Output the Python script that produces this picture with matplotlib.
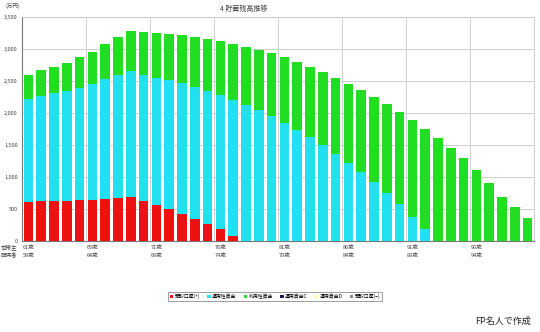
import matplotlib
matplotlib.use("Agg")
import matplotlib.pyplot as plt
import numpy as np
from matplotlib.patches import Patch
from matplotlib.ticker import FuncFormatter

plt.rcParams['font.family'] = ['Noto Sans CJK JP', 'DejaVu Sans']

# 世帯主 / 配偶者 ages (one bar per year)
head_ages = list(range(61, 101))
spouse_ages = list(range(59, 99))

# stacked segments, 万円
deposit_plus = [610, 620, 625, 625, 640, 645, 660, 675, 685, 620,
                560, 495, 425, 350, 270, 180, 85, 0, 0, 0,
                0, 0, 0, 0, 0, 0, 0, 0, 0, 0,
                0, 0, 0, 0, 0, 0, 0, 0, 0, 0]
invest_funds = [1615, 1645, 1685, 1720, 1755, 1805, 1865, 1915, 1965, 1980,
                1990, 2015, 2040, 2055, 2075, 2100, 2125, 2130, 2040, 1950,
                1850, 1740, 1620, 1500, 1365, 1225, 1075, 920, 755, 575,
                380, 180, 0, 0, 0, 0, 0, 0, 0, 0]
use_funds = [375, 400, 415, 440, 480, 505, 550, 600, 630, 660,
             700, 725, 750, 780, 805, 840, 870, 905, 950, 980,
             1020, 1060, 1105, 1140, 1185, 1230, 1280, 1335, 1390, 1445,
             1510, 1575, 1615, 1455, 1290, 1105, 910, 690, 530, 365]

legend_labels = ["預貯口座(+)", "運用性資金", "利用性資金", "運用資金C", "運用資金D", "預貯口座(−)"]
legend_colors = ["#ee1111", "#22e0f0", "#22dd22", "#1a1a60", "#ffff99", "#888888"]

fig = plt.figure(figsize=(5.4, 3.32), dpi=100)
ax = fig.add_axes([22 / 540, 91 / 332, 512 / 540, 224 / 332])

x = np.arange(len(head_ages))
red = np.array(deposit_plus)
cyan = np.array(invest_funds)
green = np.array(use_funds)
w = 0.74
ax.bar(x, red, w, color=legend_colors[0], zorder=3)
ax.bar(x, cyan, w, bottom=red, color=legend_colors[1], zorder=3)
ax.bar(x, green, w, bottom=red + cyan, color=legend_colors[2], zorder=3)

ax.set_xlim(-0.5, len(x) - 0.5)
ax.set_ylim(0, 3500)
ax.set_yticks(np.arange(0, 3501, 500))
ax.yaxis.set_major_formatter(FuncFormatter(lambda v, p: f"{int(v):,}"))
ax.tick_params(axis='y', labelsize=4, length=0, pad=3, colors='#444444')
ax.set_xticks([])
ax.grid(axis='y', color='#c8c8c8', lw=0.6, zorder=0)
for b in np.arange(4.5, len(x) - 1, 5):
    ax.axvline(b, color='#c8c8c8', lw=0.6, zorder=0)
for side in ['top', 'right']:
    ax.spines[side].set_color('#c8c8c8')
    ax.spines[side].set_linewidth(0.6)
for side in ['left', 'bottom']:
    ax.spines[side].set_color('#777777')
    ax.spines[side].set_linewidth(0.8)

# age labels under the axis
tr = ax.get_xaxis_transform()
for i in range(0, len(x), 5):
    ax.text(i - 0.45, -0.03, f"{head_ages[i]}歳", transform=tr, fontsize=4,
            ha='left', va='center', color='#444444')
    ax.text(i - 0.45, -0.065, f"{spouse_ages[i]}歳", transform=tr, fontsize=4,
            ha='left', va='center', color='#444444')
fig.text(1 / 540, 1 - 247 / 332, "世帯主", fontsize=4, va='center', color='#444444')
fig.text(1 / 540, 1 - 254 / 332, "配偶者", fontsize=4, va='center', color='#444444')

fig.text(5 / 540, 1 - 6 / 332, "(万円)", fontsize=4, va='center', color='#444444')
fig.text(244 / 540, 1 - 9 / 332, "4 貯蓄残高推移", fontsize=5, ha='center',
         va='center', color='#444444')

handles = [Patch(facecolor=c, edgecolor='none') for c in legend_colors]
leg = fig.legend(handles, legend_labels, loc='center', ncol=6,
                 bbox_to_anchor=(275 / 540, 1 - 296.5 / 332), fontsize=3.5,
                 frameon=True, fancybox=False, handlelength=0.7, handleheight=0.7,
                 handletextpad=0.3, columnspacing=1.5, borderpad=0.4)
leg.get_frame().set_edgecolor('#555555')
leg.get_frame().set_linewidth(0.5)

fig.text(503 / 540, 1 - 321 / 332, "FP名人で作成", fontsize=6.5, ha='center',
         va='center', color='#222222')

fig.savefig("out.png", dpi=100)
